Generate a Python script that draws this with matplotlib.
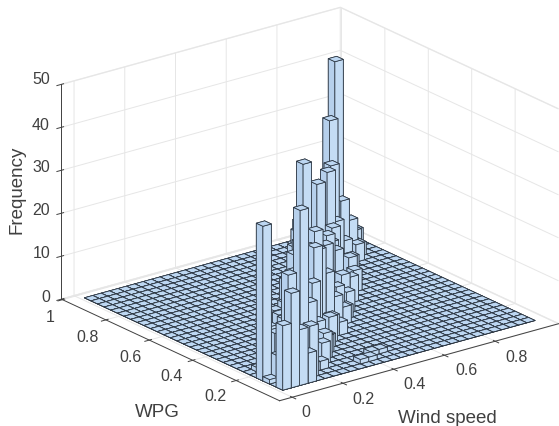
import numpy as np
import matplotlib
matplotlib.use("Agg")
import matplotlib.pyplot as plt

plt.rcParams["font.family"] = ["Liberation Sans", "DejaVu Sans"]

# hist3 bins, 30 x 30
n_bins = 30
wind_edges = np.linspace(0.014, 1.009, n_bins + 1)
wpg_edges = np.linspace(0.06, 0.974, n_bins + 1)

# non empty bins (rest of the floor is 0)
wind_bin = [0, 0, 1, 2, 3, 3, 4, 6, 15, 29, 26, 23, 21, 19, 25, 14, 17, 12, 18,
            11, 8, 7, 6, 14, 18, 28, 27, 26, 23, 22, 13, 15, 9, 7, 13, 11, 10, 12,
            4, 5, 6, 7, 8, 9, 10, 11, 12, 13, 14, 16, 17, 18, 20, 21, 22, 23, 24,
            25, 27, 28, 1, 0, 1, 2,
            5, 8, 9, 10, 12, 13, 15, 16, 17, 19, 21, 23, 26, 27, 29,
            1, 3, 4, 5, 10, 11, 12, 16, 19, 20, 22]
wpg_bin = [3, 0, 0, 0, 0, 3, 1, 5, 16, 29, 26, 22, 20, 19, 23, 13, 15, 10, 15,
           7, 4, 3, 2, 10, 14, 25, 24, 23, 20, 18, 10, 11, 7, 5, 2, 1, 1, 2,
           7, 8, 9, 11, 10, 12, 14, 13, 15, 16, 17, 19, 20, 21, 23, 25, 25, 27, 28,
           29, 29, 29, 5, 2, 1, 1,
           2, 5, 5, 6, 8, 8, 10, 11, 12, 14, 16, 19, 22, 23, 26,
           2, 5, 6, 7, 8, 10, 11, 14, 17, 18, 20]
freq = [36, 15, 22, 13, 7, 23, 12, 35, 33, 40, 30, 24, 25, 24, 14, 20, 16, 19, 12,
        6, 6, 5, 2, 7, 7, 4, 3, 9, 8, 6, 13, 8, 15, 13, 1, 1, 1, 1,
        2, 3, 2, 3, 5, 4, 3, 6, 3, 7, 4, 5, 8, 6, 7, 4, 9, 5, 6,
        3, 6, 8, 1, 1, 4, 5,
        2, 8, 4, 3, 5, 3, 4, 3, 5, 6, 5, 5, 4, 3, 3,
        6, 8, 5, 4, 22, 20, 14, 15, 12, 14, 13]

wind_ticks = [0, 0.2, 0.4, 0.6, 0.8]
wpg_ticks = [0.2, 0.4, 0.6, 0.8, 1]
freq_ticks = [0, 10, 20, 30, 40, 50]
wind_labels = ["0", "0.2", "0.4", "0.6", "0.8"]
wpg_labels = ["0.2", "0.4", "0.6", "0.8", "1"]
freq_labels = ["0", "10", "20", "30", "40", "50"]

# where the tick labels sit, px from top left
wind_label_px = [(306, 413), (363, 400), (415, 385), (466, 371), (517, 357)]
wpg_label_px = [(215, 397), (172, 377), (130, 358), (88, 338), (50, 318)]
freq_label_y = [297, 254, 211, 168, 125, 80]

bar_edge = "#2a3440"
top_col = "#bdd7f2"
side_x = "#b6d0ec"
side_y = "#c4dcf4"
text_col = "#404040"
face_cols = [top_col, top_col, side_y, side_y, side_x, side_x]

fig = plt.figure(figsize=(5.59, 4.27), dpi=100)
ax = fig.add_axes([53.2 / 559, -34.8 / 427, 500 / 559, 500 / 427], projection="3d", proj_type="ortho")
ax.computed_zorder = False
ax.view_init(elev=21, azim=-127.6)
ax.set_box_aspect((352, 357.5, 230), zoom=1.072)
ax.patch.set_alpha(0)

ax.set_xlim(-0.05, 1.05)
ax.set_ylim(0, 1.005)
ax.set_zlim(0, 50)

# flat floor first
gx, gy = np.meshgrid(wind_edges[:-1], wpg_edges[:-1])
ax.bar3d(gx.ravel(), gy.ravel(), np.zeros(gx.size), wind_edges[1] - wind_edges[0], wpg_edges[1] - wpg_edges[0], 0,
         color=top_col, shade=False, edgecolor=bar_edge, linewidth=0.55, zorder=1)

# painter order, far corner first
order = sorted(range(len(freq)), key=lambda k: -(wind_bin[k] + wpg_bin[k]))
for n, k in enumerate(order):
    ax.bar3d(wind_edges[wind_bin[k]], wpg_edges[wpg_bin[k]], 0,
             wind_edges[1] - wind_edges[0], wpg_edges[1] - wpg_edges[0], freq[k],
             color=face_cols, shade=False, edgecolor=bar_edge, linewidth=0.55, zorder=2 + n)

ax.set_xticks(wind_ticks)
ax.set_yticks(wpg_ticks)
ax.set_zticks(freq_ticks)
ax.set_xticklabels([])
ax.set_yticklabels([])
ax.set_zticklabels([])
ax.tick_params(axis="both", colors=text_col)

for axis in (ax.xaxis, ax.yaxis, ax.zaxis):
    axis.set_pane_color((1, 1, 1, 1))
    axis.pane.set_edgecolor("#ececec")
    axis.line.set_color(text_col)
    axis.line.set_linewidth(0.7)
    axis._axinfo["grid"]["color"] = "#e6e6e6"
    axis._axinfo["grid"]["linewidth"] = 0.7
    axis._axinfo["tick"]["linewidth"] = {True: 0.7, False: 0.7}

# mplot3d places tick labels too far off, so put them by hand
for lab, (px, py) in zip(wind_labels, wind_label_px):
    fig.text(px / 559, 1 - py / 427, lab, ha="center", va="center", fontsize=11.5, color=text_col)
for lab, (px, py) in zip(wpg_labels, wpg_label_px):
    fig.text(px / 559, 1 - py / 427, lab, ha="center", va="center", fontsize=11.5, color=text_col)
for lab, py in zip(freq_labels, freq_label_y):
    fig.text(50 / 559, 1 - py / 427, lab, ha="right", va="center", fontsize=11.5, color=text_col)

fig.text(17 / 559, 1 - 190 / 427, "Frequency", rotation=90, ha="center", va="center", fontsize=13.5, color=text_col)
fig.text(157 / 559, 1 - 413 / 427, "WPG", ha="center", va="center", fontsize=13.5, color=text_col)
fig.text(447 / 559, 1 - 419 / 427, "Wind speed", ha="center", va="center", fontsize=13.5, color=text_col)

fig.savefig("out.png", dpi=100)
